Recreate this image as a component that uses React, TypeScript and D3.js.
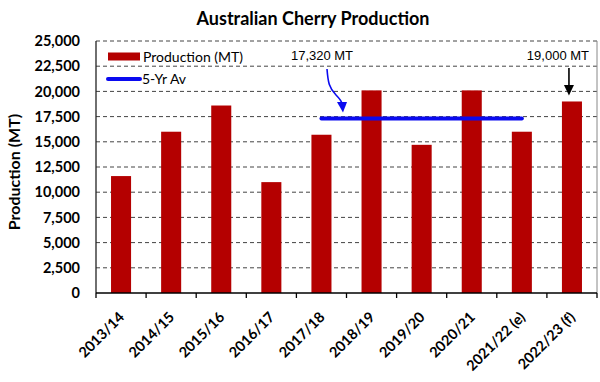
import React from "react";
import * as d3 from "d3";

const categories = ["2013/14", "2014/15", "2015/16", "2016/17", "2017/18", "2018/19", "2019/20", "2020/21", "2021/22 (e)", "2022/23 (f)"];
const production = [11600, 16000, 18600, 11000, 15700, 20100, 14700, 20100, 16000, 19000];
const yTicks = [0, 2500, 5000, 7500, 10000, 12500, 15000, 17500, 20000, 22500, 25000];
const avgValue = 17320;
const avgFrom = "2017/18";
const avgTo = "2021/22 (e)";
const avgLabel = "17,320 MT";
const forecastLabel = "19,000 MT";
const title = "Australian Cherry Production";
const yTitle = "Production (MT)";
const legendBar = "Production (MT)";
const legendLine = "5-Yr Av";

const W = 600, H = 382;
const L = 96, R = 597, T = 41, B = 293;
const RED = "#B40000";
const BLUE = "#0A0AF0";
const FONT = "Lato, 'Open Sans', sans-serif";
const NFONT = "'Liberation Sans', Arial, sans-serif";

export default function App() {
  const x = d3.scaleBand<string>().domain(categories).range([L, R]).paddingInner(0).paddingOuter(0);
  const y = d3.scaleLinear().domain([0, 25000]).range([B, T]);
  const bw = x.bandwidth() * 0.4;
  const cx = (c: string) => (x(c) as number) + x.bandwidth() / 2;
  const fmt = d3.format(",");
  const yAvg = y(avgValue);
  const fIdx = categories.length - 1;
  const fx = cx(categories[fIdx]);
  const fTop = y(production[fIdx]);
  const ax = 327;
  return (
    <svg width={W} height={H} style={{ position: "absolute", left: 0, top: 0, background: "#fff" }}>
      <rect width={W} height={H} fill="#fff" />
      <text x={313} y={25} textAnchor="middle" fontFamily={FONT} fontWeight={700} fontSize={18} fill="#000">{title}</text>
      {yTicks.filter(t => t > 0).map(t => (
        <line key={t} x1={L} x2={R} y1={y(t)} y2={y(t)} stroke="#444" strokeWidth={1} strokeDasharray="4,3" />
      ))}
      <line x1={R} x2={R} y1={T} y2={B} stroke="#888" strokeWidth={1} />
      {categories.map((c, i) => (
        <rect key={c} x={cx(c) - bw / 2} y={y(production[i])} width={bw} height={B - y(production[i])} fill={RED} />
      ))}
      <line x1={cx(avgFrom)} x2={cx(avgTo)} y1={yAvg} y2={yAvg} stroke={BLUE} strokeWidth={4} strokeLinecap="round" />
      <line x1={L} x2={L} y1={T} y2={B} stroke="#222" strokeWidth={1.3} />
      <line x1={L} x2={R} y1={B} y2={B} stroke="#000" strokeWidth={1.5} />
      {categories.map((c) => (
        <line key={c} x1={x(c) as number} x2={x(c) as number} y1={B} y2={B + 5} stroke="#000" strokeWidth={1.3} />
      ))}
      <line x1={R} x2={R} y1={B} y2={B + 5} stroke="#000" strokeWidth={1.3} />
      {yTicks.map(t => (
        <text key={t} x={80} y={y(t)} dy="0.36em" textAnchor="end" fontFamily={FONT} fontWeight={700} fontSize={14.5} fill="#000">{fmt(t)}</text>
      ))}
      {categories.map(c => (
        <text key={c} transform={`translate(${cx(c) - 1},${B + 20}) rotate(-45)`} textAnchor="end" dy="0.5em" fontFamily={FONT} fontWeight={700} fontSize={14.5} fill="#000">{c}</text>
      ))}
      <text transform={`translate(20,172) rotate(-90)`} textAnchor="middle" fontFamily={FONT} fontWeight={700} fontSize={16} fill="#000">{yTitle}</text>
      <rect x={108} y={52.5} width={32} height={8} fill={RED} />
      <text x={143} y={57} dy="0.36em" fontFamily={FONT} fontSize={14} fill="#000">{legendBar}</text>
      <line x1={108} x2={140} y1={79} y2={79} stroke={BLUE} strokeWidth={4} strokeLinecap="round" />
      <text x={142} y={79} dy="0.36em" fontFamily={FONT} fontSize={14} fill="#000">{legendLine}</text>
      <text x={322} y={60} textAnchor="middle" fontFamily={NFONT} fontSize={13} fill="#000">{avgLabel}</text>
      <path d={`M${ax},69 C${ax + 1},82 ${ax + 2},88 ${ax + 9},95 C${ax + 13},99 ${ax + 15},101 ${ax + 15},104`} fill="none" stroke={BLUE} strokeWidth={1.6} />
      <path d={`M${ax + 10},102 L${ax + 20},102 L${ax + 16},${yAvg - 6} Z`} fill={BLUE} />
      <text x={fx - 14} y={60} textAnchor="middle" fontFamily={NFONT} fontSize={13} fill="#000">{forecastLabel}</text>
      <line x1={fx - 3} x2={fx - 3} y1={68} y2={86} stroke="#000" strokeWidth={1.6} />
      <path d={`M${fx - 8},85 L${fx + 2},85 L${fx - 3},${fTop - 6} Z`} fill="#000" />
    </svg>
  );
}
